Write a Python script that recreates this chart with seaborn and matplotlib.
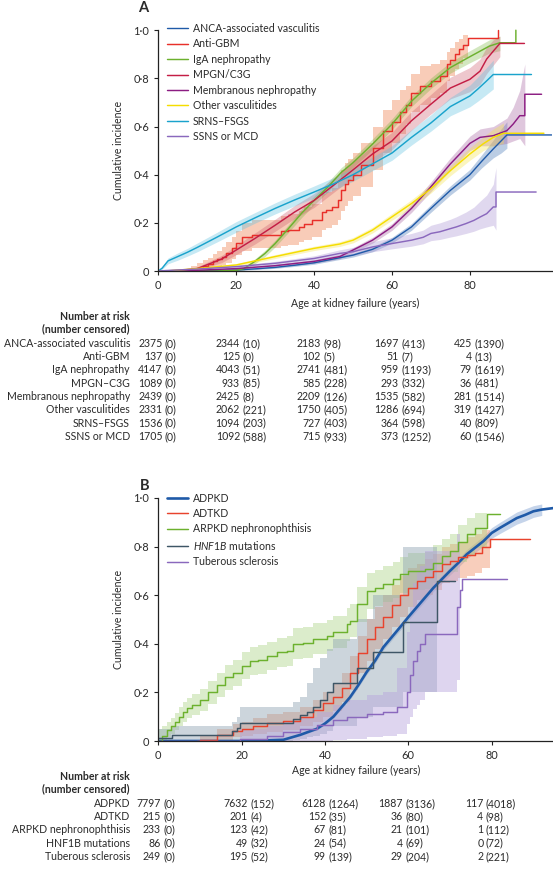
import numpy as np
import matplotlib
matplotlib.use('Agg')
import matplotlib.pyplot as plt
import seaborn as sns

nan = np.nan

# ---------------- panel A : glomerular / vasculitis ----------------
anca_age = [0, 10, 20, 25, 30, 35, 40, 45, 50, 55, 60, 65, 70, 75, 80, 83, 86, 88, 89.5, 101]
anca_mid = [0, 0.001, 0.004, 0.009, 0.015, 0.024, 0.034, 0.05, 0.066, 0.09, 0.128, 0.183, 0.26, 0.335, 0.40, 0.455, 0.507, 0.54, 0.565, 0.565]
anca_lo = [0, 0, 0.002, 0.006, 0.011, 0.019, 0.028, 0.043, 0.058, 0.08, 0.116, 0.169, 0.244, 0.316, 0.378, 0.428, 0.47, 0.49, 0.51, nan]
anca_hi = [0, 0.002, 0.006, 0.012, 0.019, 0.029, 0.04, 0.057, 0.074, 0.1, 0.14, 0.197, 0.276, 0.354, 0.422, 0.482, 0.544, 0.59, 0.62, nan]

gbm_age = [0, 8.5, 10, 11.5, 12.8, 14, 15, 16.3, 17.5, 18.8, 20, 21.4, 24, 31.6, 33.4, 36, 37.5, 39.4, 41.9, 43, 44.5, 46.2,
           47, 48, 48.8, 50, 52, 55, 57.8, 60, 62, 63.7, 65, 67.2, 70, 72.3, 74, 75, 76.1, 77.2, 78.3, 79.6, 87.3, 87.3]
gbm_mid = [0, 0.007, 0.014, 0.02, 0.028, 0.04, 0.05, 0.06, 0.075, 0.094, 0.115, 0.14, 0.15, 0.165, 0.17, 0.183, 0.197, 0.21, 0.245, 0.255, 0.266, 0.293,
           0.335, 0.36, 0.376, 0.40, 0.44, 0.51, 0.58, 0.62, 0.66, 0.69, 0.74, 0.77, 0.79, 0.81, 0.858, 0.875, 0.90, 0.92, 0.94, 0.968, 0.968, 1.0]
gbm_lo = [0, 0, 0, 0.002, 0.006, 0.012, 0.018, 0.025, 0.035, 0.05, 0.065, 0.085, 0.095, 0.105, 0.11, 0.12, 0.13, 0.14, 0.17, 0.18, 0.19, 0.21,
          0.25, 0.27, 0.29, 0.31, 0.35, 0.42, 0.49, 0.53, 0.57, 0.61, 0.66, 0.69, 0.72, 0.74, 0.79, 0.81, 0.84, 0.86, 0.885, 0.92, nan, nan]
gbm_hi = [0, 0.02, 0.035, 0.045, 0.055, 0.07, 0.085, 0.1, 0.12, 0.14, 0.165, 0.2, 0.21, 0.23, 0.235, 0.25, 0.265, 0.28, 0.32, 0.33, 0.345, 0.375,
          0.42, 0.45, 0.465, 0.49, 0.53, 0.6, 0.67, 0.71, 0.75, 0.77, 0.82, 0.85, 0.86, 0.875, 0.91, 0.925, 0.95, 0.965, 0.98, 0.99, nan, nan]

iga_age = [0, 15, 20, 22, 24.8, 27.4, 30, 33.4, 36.8, 40, 43.6, 47, 50, 55, 60, 65, 70, 75, 80, 85, 87.7, 91.8, 91.8]
iga_mid = [0, 0, 0.003, 0.01, 0.04, 0.073, 0.114, 0.176, 0.24, 0.293, 0.35, 0.41, 0.45, 0.527, 0.61, 0.705, 0.78, 0.845, 0.89, 0.934, 0.948, 0.948, 1.0]
iga_lo = [0, 0, 0, 0.004, 0.03, 0.06, 0.1, 0.16, 0.222, 0.275, 0.33, 0.39, 0.43, 0.505, 0.588, 0.683, 0.758, 0.822, 0.865, 0.905, 0.915, nan, nan]
iga_hi = [0, 0, 0.006, 0.016, 0.05, 0.086, 0.128, 0.192, 0.258, 0.311, 0.37, 0.43, 0.47, 0.549, 0.632, 0.727, 0.802, 0.868, 0.915, 0.96, 0.975, nan, nan]

mpgn_age = [0, 5, 10, 16.3, 20, 24.8, 30, 35, 40, 45.3, 50, 55, 60, 65, 70, 75, 80, 82.6, 84.3, 86, 87.7, 94]
mpgn_mid = [0, 0.002, 0.01, 0.05, 0.087, 0.135, 0.19, 0.245, 0.293, 0.36, 0.42, 0.486, 0.54, 0.624, 0.693, 0.76, 0.796, 0.83, 0.88, 0.913, 0.945, 0.945]
mpgn_lo = [0, 0, 0.004, 0.035, 0.068, 0.112, 0.165, 0.218, 0.264, 0.33, 0.388, 0.452, 0.504, 0.585, 0.652, 0.715, 0.745, 0.775, 0.82, 0.855, 0.89, nan]
mpgn_hi = [0, 0.005, 0.017, 0.065, 0.106, 0.158, 0.215, 0.272, 0.322, 0.39, 0.452, 0.52, 0.576, 0.663, 0.734, 0.805, 0.845, 0.88, 0.93, 0.96, 0.975, nan]

memb_age = [0, 5, 10, 20, 30, 40, 46.6, 50, 55, 60, 65, 70, 75, 80, 82.6, 86, 89.5, 91.1, 92.8, 94.1, 94.1, 98.4]
memb_mid = [0, 0.001, 0.003, 0.01, 0.022, 0.04, 0.06, 0.087, 0.128, 0.183, 0.26, 0.35, 0.445, 0.53, 0.555, 0.562, 0.583, 0.61, 0.645, 0.645, 0.734, 0.734]
memb_lo = [0, 0, 0.001, 0.006, 0.016, 0.033, 0.051, 0.077, 0.116, 0.169, 0.243, 0.33, 0.42, 0.5, 0.52, 0.52, 0.53, 0.54, 0.55, 0.52, nan, nan]
memb_hi = [0, 0.002, 0.005, 0.014, 0.028, 0.047, 0.069, 0.097, 0.14, 0.197, 0.277, 0.37, 0.47, 0.56, 0.59, 0.6, 0.635, 0.68, 0.75, 0.86, nan, nan]

ovas_age = [0, 2, 10, 20, 30, 40, 46.6, 50, 55, 60, 65, 70, 75, 80, 83.4, 86, 88.6, 99]
ovas_mid = [0, 0, 0.01, 0.025, 0.06, 0.094, 0.112, 0.128, 0.17, 0.225, 0.28, 0.342, 0.417, 0.486, 0.528, 0.555, 0.572, 0.572]
ovas_lo = [0, 0, 0.006, 0.019, 0.052, 0.085, 0.102, 0.117, 0.158, 0.211, 0.264, 0.324, 0.396, 0.46, 0.5, 0.52, 0.53, nan]
ovas_hi = [0, 0, 0.014, 0.031, 0.068, 0.103, 0.122, 0.139, 0.182, 0.239, 0.296, 0.36, 0.438, 0.512, 0.556, 0.59, 0.615, nan]

srns_age = [0, 1, 2.5, 5, 7.5, 10, 15, 20, 25, 30, 35, 40, 45, 50, 55, 60, 65, 70, 75, 80, 82, 84, 86, 95.8]
srns_mid = [0, 0.012, 0.042, 0.06, 0.078, 0.098, 0.14, 0.183, 0.222, 0.26, 0.295, 0.328, 0.362, 0.40, 0.445, 0.49, 0.555, 0.615, 0.683, 0.727, 0.755, 0.785, 0.816, 0.816]
srns_lo = [0, 0.007, 0.03, 0.045, 0.062, 0.08, 0.12, 0.161, 0.2, 0.237, 0.271, 0.303, 0.336, 0.373, 0.417, 0.46, 0.523, 0.581, 0.645, 0.682, 0.705, 0.73, 0.756, nan]
srns_hi = [0, 0.017, 0.054, 0.075, 0.094, 0.116, 0.16, 0.205, 0.244, 0.283, 0.319, 0.353, 0.388, 0.427, 0.473, 0.52, 0.587, 0.649, 0.721, 0.772, 0.805, 0.84, 0.876, nan]

ssns_age = [0, 2, 10, 20, 30, 40, 46.6, 50, 55, 60, 65, 68, 70, 72.3, 75, 76.5, 79, 81, 82.6, 84.3, 86, 86.7, 86.7, 97]
ssns_mid = [0, 0.002, 0.008, 0.018, 0.032, 0.052, 0.073, 0.08, 0.10, 0.114, 0.128, 0.14, 0.156, 0.163, 0.176, 0.183, 0.197, 0.21, 0.224, 0.238, 0.266, 0.266, 0.328, 0.328]
ssns_lo = [0, 0, 0.004, 0.012, 0.024, 0.041, 0.058, 0.064, 0.08, 0.092, 0.103, 0.113, 0.126, 0.131, 0.141, 0.146, 0.156, 0.165, 0.175, 0.183, 0.19, 0.17, nan, nan]
ssns_hi = [0, 0.004, 0.012, 0.024, 0.04, 0.063, 0.088, 0.098, 0.122, 0.138, 0.156, 0.17, 0.19, 0.2, 0.215, 0.225, 0.245, 0.265, 0.29, 0.315, 0.36, 0.43, nan, nan]

# ---------------- panel B : genetic ----------------
adpkd_age = [0, 20, 25, 30, 34, 38, 40, 42, 44, 46, 48, 50, 52, 54, 56, 58, 60, 62, 64, 66, 68, 70, 72, 74, 76, 78, 80, 82, 84, 86, 88, 90, 92, 94.7]
adpkd_mid = [0, 0, 0.002, 0.005, 0.025, 0.05, 0.072, 0.1, 0.14, 0.18, 0.23, 0.284, 0.33, 0.386, 0.427, 0.468, 0.51, 0.55, 0.59, 0.63, 0.665, 0.70,
             0.733, 0.768, 0.795, 0.822, 0.856, 0.877, 0.897, 0.917, 0.93, 0.945, 0.952, 0.958]
adpkd_lo = [0, 0, 0.001, 0.003, 0.021, 0.045, 0.066, 0.093, 0.132, 0.171, 0.221, 0.274, 0.319, 0.374, 0.415, 0.455, 0.496, 0.536, 0.575, 0.615, 0.649,
            0.683, 0.715, 0.749, 0.775, 0.801, 0.834, 0.854, 0.873, 0.892, 0.905, 0.92, 0.928, nan]
adpkd_hi = [0, 0, 0.003, 0.007, 0.029, 0.055, 0.078, 0.107, 0.148, 0.189, 0.239, 0.294, 0.341, 0.398, 0.439, 0.481, 0.524, 0.564, 0.605, 0.645, 0.681,
            0.717, 0.751, 0.787, 0.815, 0.843, 0.878, 0.9, 0.921, 0.942, 0.955, 0.968, 0.975, nan]

adtkd_age = [9.2, 10, 14, 18, 20, 22.8, 26, 30, 34, 37.2, 39.6, 42, 44, 46, 48, 50, 52, 54, 56, 58, 60, 62, 64, 66, 68, 70, 72, 74, 76, 77.6, 79.6, 89.2]
adtkd_mid = [0, 0.005, 0.025, 0.043, 0.05, 0.062, 0.072, 0.083, 0.1, 0.127, 0.155, 0.18, 0.22, 0.28, 0.36, 0.42, 0.468, 0.51, 0.56, 0.6, 0.63, 0.66,
             0.675, 0.70, 0.727, 0.74, 0.755, 0.765, 0.775, 0.80, 0.83, 0.83]
adtkd_lo = [0, 0, 0.005, 0.015, 0.02, 0.028, 0.035, 0.045, 0.06, 0.08, 0.1, 0.125, 0.16, 0.21, 0.28, 0.33, 0.38, 0.42, 0.47, 0.51, 0.55, 0.58,
            0.6, 0.62, 0.65, 0.66, 0.67, 0.68, 0.69, 0.71, 0.72, nan]
adtkd_hi = [0, 0.02, 0.05, 0.07, 0.08, 0.095, 0.11, 0.12, 0.14, 0.17, 0.2, 0.24, 0.28, 0.35, 0.43, 0.5, 0.55, 0.6, 0.64, 0.68, 0.71, 0.73,
            0.75, 0.77, 0.8, 0.81, 0.82, 0.84, 0.85, 0.87, 0.9, nan]

arpkd_age = [0, 1, 2, 3, 4, 5, 6, 7, 8, 10, 12, 14, 16, 18, 20, 22, 24, 26, 28.4, 30.8, 32.4, 34.8, 37.2, 40.4, 42, 45.2, 46, 47.6, 50,
             52, 54, 56.4, 58, 60, 64, 66, 68, 70, 72, 74, 76, 78.8, 82]
arpkd_mid = [0, 0.02, 0.045, 0.06, 0.08, 0.1, 0.12, 0.135, 0.15, 0.17, 0.2, 0.23, 0.262, 0.28, 0.31, 0.33, 0.335, 0.35, 0.365, 0.37, 0.40,
             0.405, 0.42, 0.434, 0.447, 0.48, 0.495, 0.563, 0.617, 0.63, 0.645, 0.665, 0.686, 0.70, 0.706, 0.733, 0.76, 0.78, 0.82, 0.85, 0.877, 0.935, 0.935]
arpkd_lo = [0, 0, 0.015, 0.028, 0.045, 0.062, 0.08, 0.094, 0.107, 0.125, 0.152, 0.18, 0.21, 0.226, 0.254, 0.272, 0.277, 0.291, 0.305, 0.309, 0.337,
            0.342, 0.356, 0.369, 0.381, 0.412, 0.426, 0.49, 0.543, 0.555, 0.57, 0.588, 0.608, 0.621, 0.626, 0.652, 0.678, 0.697, 0.737, 0.767, 0.795, 0.85, nan]
arpkd_hi = [0.05, 0.06, 0.078, 0.094, 0.116, 0.138, 0.16, 0.176, 0.193, 0.215, 0.248, 0.28, 0.314, 0.334, 0.366, 0.388, 0.393, 0.409, 0.425, 0.431, 0.463,
            0.468, 0.484, 0.499, 0.513, 0.548, 0.564, 0.634, 0.69, 0.703, 0.718, 0.738, 0.758, 0.772, 0.778, 0.806, 0.833, 0.853, 0.89, 0.918, 0.94, 0.98, nan]

hnf_age = [0, 3.2, 17.6, 18.8, 19.6, 32.4, 34, 35.6, 37.2, 38.8, 40.4, 42, 47.6, 51.6, 58.8, 66.8, 71.2]
hnf_mid = [0.012, 0.023, 0.04, 0.055, 0.075, 0.09, 0.105, 0.12, 0.14, 0.17, 0.2, 0.24, 0.30, 0.365, 0.49, 0.66, 0.66]
hnf_lo = [0, 0, 0, 0, 0, 0.005, 0.01, 0.015, 0.02, 0.03, 0.04, 0.06, 0.1, 0.14, 0.2, 0.25, nan]
hnf_hi = [0.05, 0.06, 0.08, 0.1, 0.14, 0.16, 0.18, 0.24, 0.3, 0.34, 0.38, 0.42, 0.5, 0.6, 0.8, 0.85, nan]

tsc_age = [0, 19.6, 26, 30, 34, 38, 42, 45.2, 50, 54, 57.2, 59.6, 60.4, 61.2, 62, 62.8, 64, 71.6, 72.4, 72.8, 83.6]
tsc_mid = [0, 0.01, 0.02, 0.035, 0.05, 0.065, 0.085, 0.1, 0.113, 0.12, 0.14, 0.2, 0.27, 0.33, 0.37, 0.4, 0.44, 0.55, 0.62, 0.665, 0.665]
tsc_lo = [0, 0, 0, 0, 0, 0, 0.005, 0.01, 0.015, 0.02, 0.03, 0.07, 0.1, 0.13, 0.15, 0.17, 0.2, 0.25, 0.26, nan, nan]
tsc_hi = [0, 0.05, 0.06, 0.08, 0.1, 0.12, 0.15, 0.17, 0.19, 0.2, 0.3, 0.45, 0.55, 0.65, 0.7, 0.72, 0.78, 0.85, 0.85, nan, nan]

# ---------------- number at risk tables ----------------
rows_A = ['ANCA-associated vasculitis', 'Anti-GBM', 'IgA nephropathy', 'MPGN–C3G',
          'Membranous nephropathy', 'Other vasculitides', 'SRNS–FSGS', 'SSNS or MCD']
risk_A = [[2375, 2344, 2183, 1697, 425], [137, 125, 102, 51, 4], [4147, 4043, 2741, 959, 79],
          [1089, 933, 585, 293, 36], [2439, 2425, 2209, 1535, 281], [2331, 2062, 1750, 1286, 319],
          [1536, 1094, 727, 364, 40], [1705, 1092, 715, 373, 60]]
cens_A = [[0, 10, 98, 413, 1390], [0, 0, 5, 7, 13], [0, 51, 481, 1193, 1619], [0, 85, 228, 332, 481],
          [0, 8, 126, 582, 1514], [0, 221, 405, 694, 1427], [0, 203, 403, 598, 809], [0, 588, 933, 1252, 1546]]

rows_B = ['ADPKD', 'ADTKD', 'ARPKD nephronophthisis', 'HNF1B mutations', 'Tuberous sclerosis']
risk_B = [[7797, 7632, 6128, 1887, 117], [215, 201, 152, 36, 4], [233, 123, 67, 21, 1],
          [86, 49, 24, 4, 0], [249, 195, 99, 29, 2]]
cens_B = [[0, 152, 1264, 3136, 4018], [0, 4, 35, 80, 98], [0, 42, 81, 101, 112],
          [0, 32, 54, 69, 72], [0, 52, 139, 204, 221]]

xticks = [0, 20, 40, 60, 80]
yticks = [0, 0.2, 0.4, 0.6, 0.8, 1.0]
ytick_labels = ['0', '0·2', '0·4', '0·6', '0·8', '1·0']

# ---------------- style ----------------
sns.set_theme(style='ticks')
plt.rcParams['font.family'] = ['Lato', 'DejaVu Sans']
plt.rcParams['mathtext.fontset'] = 'custom'
plt.rcParams['mathtext.rm'] = 'Lato'
plt.rcParams['mathtext.it'] = 'Lato:italic'
TXT = '#2a2a2a'
FS = 7.6

W, H = 553, 875
fig = plt.figure(figsize=(W / 100, H / 100), dpi=100)


def fx(x):
    return x / W


def fy(y):
    return 1 - y / H


axA = fig.add_axes([fx(158.3), fy(271), (551.7 - 158.3) / W, (271 - 29) / H])
axB = fig.add_axes([fx(158.3), fy(741), (553 - 158.3) / W, (741 - 496.7) / H])

# name, ages, line, lower, upper, line colour, band colour, band alpha, stepped
seriesA = [
    ('ANCA-associated vasculitis', anca_age, anca_mid, anca_lo, anca_hi, '#1f5aa8', '#1f5aa8', 0.3, False),
    ('Anti-GBM', gbm_age, gbm_mid, gbm_lo, gbm_hi, '#e8302a', '#f29a72', 0.5, True),
    ('IgA nephropathy', iga_age, iga_mid, iga_lo, iga_hi, '#6cb12e', '#6cb12e', 0.3, False),
    ('MPGN/C3G', mpgn_age, mpgn_mid, mpgn_lo, mpgn_hi, '#c41e45', '#cf5f70', 0.35, False),
    ('Membranous nephropathy', memb_age, memb_mid, memb_lo, memb_hi, '#8c1d82', '#a560a0', 0.35, False),
    ('Other vasculitides', ovas_age, ovas_mid, ovas_lo, ovas_hi, '#f5dd00', '#f5e34a', 0.35, False),
    ('SRNS–FSGS', srns_age, srns_mid, srns_lo, srns_hi, '#1aa3cc', '#5cc0e0', 0.35, False),
    ('SSNS or MCD', ssns_age, ssns_mid, ssns_lo, ssns_hi, '#8a68bd', '#a891d2', 0.35, False),
]
seriesB = [
    ('ADPKD', adpkd_age, adpkd_mid, adpkd_lo, adpkd_hi, '#1f5aa8', '#5b84c4', 0.35, False),
    ('ADTKD', adtkd_age, adtkd_mid, adtkd_lo, adtkd_hi, '#e8432d', '#f0946c', 0.45, True),
    ('ARPKD nephronophthisis', arpkd_age, arpkd_mid, arpkd_lo, arpkd_hi, '#6cb12e', '#a6d17e', 0.4, True),
    (r'$\mathit{HNF1B}$ mutations', hnf_age, hnf_mid, hnf_lo, hnf_hi, '#3e5666', '#8fa3b3', 0.45, True),
    ('Tuberous sclerosis', tsc_age, tsc_mid, tsc_lo, tsc_hi, '#8a68bd', '#b7a2dc', 0.45, True),
]


def draw_panel(ax, series, xmax, lw_first=1.0):
    # bands first, lines on top
    for name, age, mid, lo, hi, col, bcol, alpha, step in series:
        ax.fill_between(age, np.array(lo, float), np.array(hi, float), step='post' if step else None,
                        color=bcol, alpha=alpha, lw=0)
    for i, (name, age, mid, lo, hi, col, bcol, alpha, step) in enumerate(series):
        sns.lineplot(x=age, y=mid, ax=ax, color=col, lw=lw_first if i == 0 else 1.05, label=name,
                     estimator=None, sort=False, drawstyle='steps-post' if step else 'default')
    ax.set_xlim(0, xmax)
    ax.set_ylim(0, 1.005)
    ax.set_xticks(xticks)
    ax.set_xticklabels([str(t) for t in xticks])
    ax.set_yticks(yticks)
    ax.set_yticklabels(ytick_labels)
    ax.spines['left'].set_bounds(0, 1)
    for s in ['top', 'right']:
        ax.spines[s].set_visible(False)
    for s in ['left', 'bottom']:
        ax.spines[s].set_color('#222222')
        ax.spines[s].set_linewidth(0.9)
    ax.tick_params(direction='out', length=3, width=0.8, color='#222222', labelsize=FS + 0.3,
                   labelcolor=TXT, pad=3.5)
    ax.set_xlabel('')
    ax.set_ylabel('')


draw_panel(axA, seriesA, 101)
draw_panel(axB, seriesB, 94.7, lw_first=1.9)

for ax, top in [(axA, 23), (axB, 492.5)]:
    ax.legend(loc='upper left', bbox_to_anchor=(fx(167), fy(top)), bbox_transform=fig.transFigure,
              frameon=False, fontsize=FS, handlelength=2.0, handletextpad=0.45, labelspacing=0.42,
              borderpad=0, borderaxespad=0, labelcolor=TXT)

# panel letters and axis titles
fig.text(fx(143.5), fy(8), 'A', fontsize=10.5, fontweight='bold', color=TXT, ha='center', va='center')
fig.text(fx(144.5), fy(486), 'B', fontsize=10.5, fontweight='bold', color=TXT, ha='center', va='center')
for yc in [150, 619]:
    fig.text(fx(118.3), fy(yc), 'Cumulative incidence', rotation=90, fontsize=FS, color=TXT,
             ha='center', va='center')
fig.text(fx(355), fy(303), 'Age at kidney failure (years)', fontsize=FS, color=TXT, ha='center', va='center')
fig.text(fx(356), fy(770), 'Age at kidney failure (years)', fontsize=FS, color=TXT, ha='center', va='center')


def risk_table(top, labels, risk, cens, num_right):
    fig.text(fx(130), fy(top), 'Number at risk', fontsize=FS, fontweight='bold', color=TXT, ha='right', va='center')
    fig.text(fx(130), fy(top + 12.6), '(number censored)', fontsize=FS, fontweight='bold', color=TXT,
             ha='right', va='center')
    for i, lab in enumerate(labels):
        y = top + 26.8 + 13.3 * i
        fig.text(fx(130), fy(y), lab, fontsize=FS, color=TXT, ha='right', va='center')
        for j, xr in enumerate(num_right):
            fig.text(fx(xr), fy(y), str(risk[i][j]), fontsize=FS, color=TXT, ha='right', va='center')
            fig.text(fx(xr + 2.6), fy(y), '(%d)' % cens[i][j], fontsize=FS, color=TXT, ha='left', va='center')


risk_table(316.5, rows_A, risk_A, cens_A, [162.3, 240, 320.7, 399, 471.7])
risk_table(776.5, rows_B, risk_B, cens_B, [160.7, 247.5, 326, 403, 483.3])

fig.savefig('out.png', dpi=100)
